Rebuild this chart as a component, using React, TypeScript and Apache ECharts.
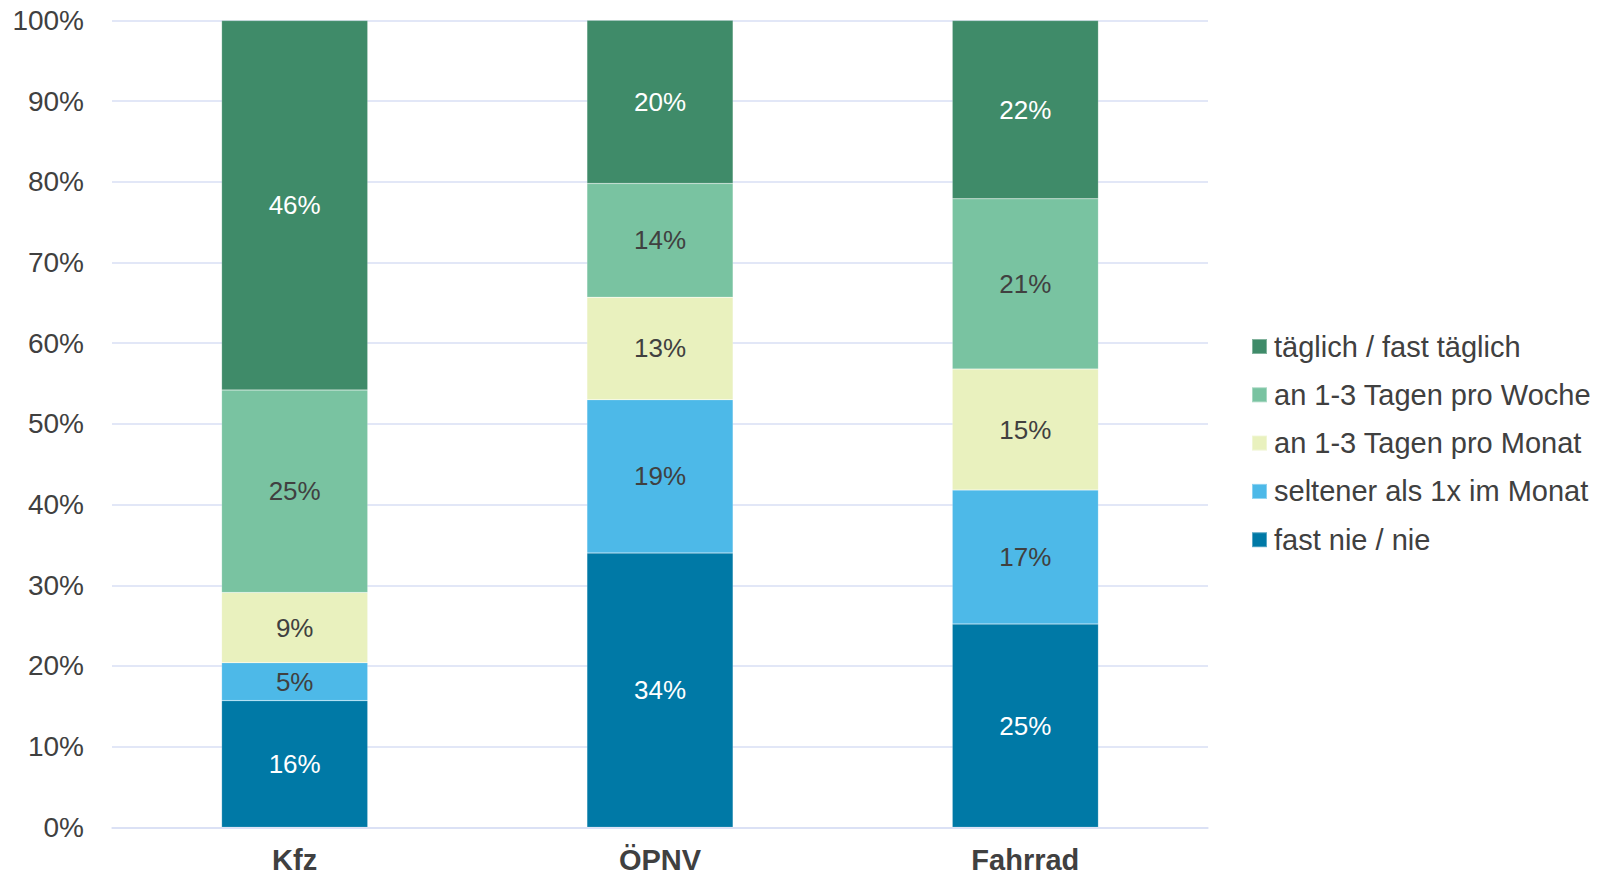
import React, { useEffect, useRef } from "react";
import * as echarts from "echarts";

const categories = ["Kfz", "ÖPNV", "Fahrrad"];
const seriesNames = [
  "fast nie / nie",
  "seltener als 1x im Monat",
  "an 1-3 Tagen pro Monat",
  "an 1-3 Tagen pro Woche",
  "täglich / fast täglich",
];
const fastNie = [15.7, 34.0, 25.2];
const seltener = [4.7, 19.0, 16.6];
const proMonat = [8.7, 12.7, 15.0];
const proWoche = [25.1, 14.1, 21.1];
const taeglich = [45.8, 20.3, 22.1];
const yTicks = [0, 10, 20, 30, 40, 50, 60, 70, 80, 90, 100];

const colors = ["#0079A6", "#4DB9E8", "#E9F1BE", "#79C3A1", "#3F8B69"];
const labelColors = ["#FFFFFF", "#404040", "#404040", "#404040", "#FFFFFF"];
const FONT = "'Liberation Sans', Arial, sans-serif";

export default function App() {
  const ref = useRef<HTMLDivElement>(null);
  useEffect(() => {
    if (!ref.current) return;
    const chart = echarts.init(ref.current, undefined, { renderer: "svg" });
    const values = [fastNie, seltener, proMonat, proWoche, taeglich];
    chart.setOption({
      animation: false,
      textStyle: { fontFamily: FONT },
      grid: {
        left: 112,
        right: 392,
        top: 20.5,
        bottom: 48.7,
        containLabel: false,
        outerBoundsMode: "none",
      },
      legend: {
        orient: "vertical",
        left: 1246,
        top: 327,
        itemWidth: 15,
        itemHeight: 15,
        itemGap: 19.3,
        icon: "rect",
        data: [...seriesNames].reverse(),
        textStyle: { fontSize: 29, color: "#404040", fontFamily: FONT, lineHeight: 29, padding: [0, 0, 0, 2] },
      },
      xAxis: {
        type: "category",
        data: categories,
        axisLine: { show: true, lineStyle: { color: "#D9DFF5", width: 1.5 } },
        axisTick: { show: false },
        axisLabel: {
          fontSize: 29,
          fontWeight: "bold",
          color: "#404040",
          margin: 18,
          lineHeight: 29,
          fontFamily: FONT,
        },
      },
      yAxis: {
        type: "value",
        min: yTicks[0],
        max: yTicks[yTicks.length - 1],
        interval: 10,
        axisLine: { show: false },
        axisTick: { show: false },
        splitLine: { show: true, lineStyle: { color: "#D9DFF5", width: 1.5 } },
        axisLabel: { fontSize: 28, color: "#404040", margin: 28, formatter: "{value}%", fontFamily: FONT },
      },
      series: seriesNames.map((name, i) => ({
        name,
        type: "bar",
        stack: "total",
        barWidth: "40%",
        data: values[i],
        itemStyle: { color: colors[i], borderColor: "rgba(255,255,255,0.35)", borderWidth: 0.5 },
        label: {
          show: true,
          position: "inside",
          fontSize: 26,
          color: labelColors[i],
          fontFamily: FONT,
          formatter: (p: any) => Math.round(p.value) + "%",
        },
      })),
    });
    return () => chart.dispose();
  }, []);
  return (
    <div
      ref={ref}
      style={{ position: "fixed", left: 0, top: 0, width: 1600, height: 876, background: "#fff" }}
    />
  );
}
